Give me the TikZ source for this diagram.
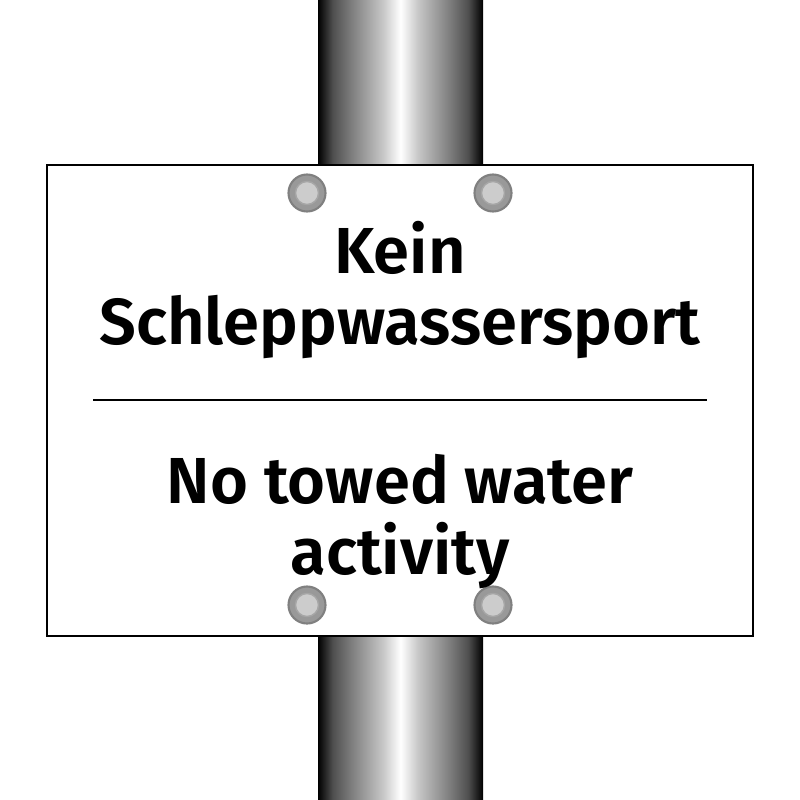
\documentclass[tikz,border=0pt]{standalone}
\usepackage{fontspec}
\setmainfont{Fira Sans}[BoldFont={Fira Sans SemiBold}]
\usetikzlibrary{positioning}
\pgfdeclarehorizontalshading{pole}{100bp}{color(0bp)=(black); color(25bp)=(black); color(29.5bp)=(black!69); color(34.7bp)=(black!52); color(44.7bp)=(black!22); color(50bp)=(white); color(55.3bp)=(black!22); color(65.3bp)=(black!52); color(70.5bp)=(black!69); color(75bp)=(black); color(100bp)=(black)}

\begin{document}
\begin{tikzpicture}[x=0.01cm,y=-0.01cm,
	screw/.style={shape=circle,draw=black!50,fill=black!40,line width=0.6pt,minimum size=0.37cm,inner sep=0pt},
	head/.style={shape=circle,draw=black!35,fill=black!20,line width=0.4pt,minimum size=0.23cm,inner sep=0pt},
	words/.style={anchor=base,inner sep=0pt,font=\fontsize{18.5}{22}\selectfont\bfseries}]
	\useasboundingbox (0,0) rectangle (800,800);
	% pole
	\shade[shading=pole] (318,0) rectangle (483,800);
	% sign
	\draw[fill=white,line width=0.45pt] (47,165) rectangle (753,636);
	\path (307,193) node (s1) [screw] {}
		  (493,193) node (s2) [screw] {}
		  (307,605) node (s3) [screw] {}
		  (493,605) node (s4) [screw] {};
	\path (s1.center) node (h1) [head] {}
		  (s2.center) node (h2) [head] {}
		  (s3.center) node (h3) [head] {}
		  (s4.center) node (h4) [head] {};
	\path (400,273) node (kein) [words] {Kein}
		  (400,344) node (schlepp) [words] {Schleppwassersport}
		  (400,503) node (towed) [words] {No towed water}
		  (400,574) node (activity) [words] {activity};
	\coordinate (l) at (93,400);
	\coordinate (r) at (707,400);
	\draw[line width=0.6pt] (l) -- (r);
\end{tikzpicture}
\end{document}
